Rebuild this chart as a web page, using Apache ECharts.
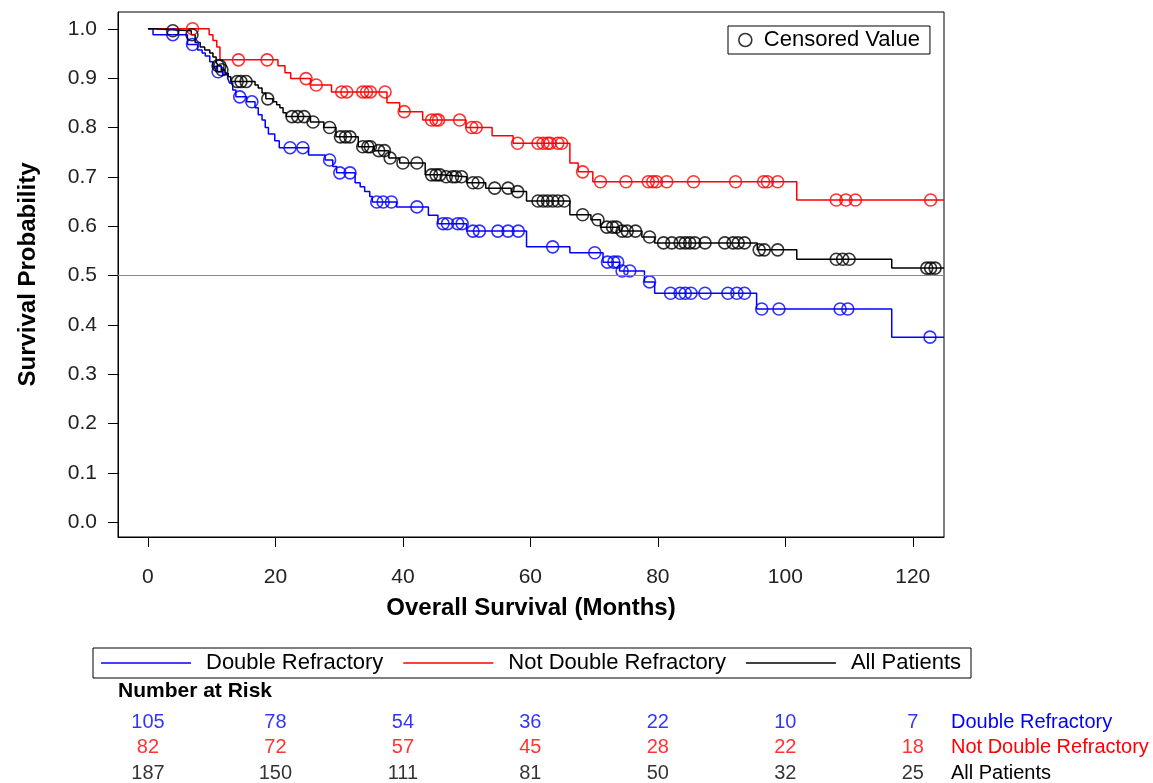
<!DOCTYPE html>
<html><head><meta charset="utf-8">
<script src="https://cdn.jsdelivr.net/npm/echarts@6/dist/echarts.min.js"></script>
<style>html,body{margin:0;padding:0;background:#fff}#c{width:1153px;height:783px}</style>
</head><body><div id="c"></div>
<script>
// ---- data ----
const xTicks = [0, 20, 40, 60, 80, 100, 120];
const yTicks = [0, 0.1, 0.2, 0.3, 0.4, 0.5, 0.6, 0.7, 0.8, 0.9, 1.0];
const groupNames = ['Double Refractory', 'Not Double Refractory', 'All Patients'];

// Double Refractory: event times (months) and survival after each event
const dblT = [0, 0.8, 6.2, 7.8, 8.5, 9.0, 9.7, 10.2, 10.9, 11.7, 12.5, 12.8, 13.3, 13.8, 15.5, 16.8, 17.3, 17.9, 18.4, 18.9, 19.9, 20.6, 25.2, 27.8, 29.0, 29.6, 32.5, 33.3, 34.0, 34.8, 35.2, 39.0, 44.0, 45.5, 50.0, 59.4, 66.2, 71.4, 74.0, 77.9, 79.5, 95.5, 116.7];
const dblS = [1.0, 0.988, 0.968, 0.957, 0.951, 0.945, 0.933, 0.923, 0.913, 0.907, 0.90, 0.89, 0.876, 0.862, 0.852, 0.84, 0.826, 0.815, 0.80, 0.787, 0.773, 0.759, 0.744, 0.734, 0.721, 0.708, 0.688, 0.68, 0.67, 0.66, 0.649, 0.639, 0.622, 0.605, 0.59, 0.558, 0.546, 0.527, 0.509, 0.487, 0.464, 0.432, 0.375];
const dblCens = [3.9, 7.0, 11.0, 14.4, 16.3, 22.3, 24.3, 28.5, 30.1, 31.7, 35.9, 36.9, 38.2, 42.2, 46.3, 47.0, 48.6, 49.3, 51.0, 52.0, 54.9, 56.5, 58.1, 63.5, 70.1, 72.1, 73.1, 73.7, 74.4, 75.6, 78.7, 82.0, 83.5, 84.3, 85.2, 87.4, 91.0, 92.4, 93.6, 96.3, 99.0, 108.6, 109.8, 122.7];

// Not Double Refractory
const ndrT = [0, 9.6, 10.2, 10.8, 11.3, 20.4, 21.5, 22.4, 25.5, 28.8, 37.5, 39.5, 43.1, 49.9, 54.0, 57.3, 66.2, 67.5, 69.8, 101.8];
const ndrS = [1.0, 0.988, 0.976, 0.963, 0.937, 0.925, 0.911, 0.899, 0.886, 0.872, 0.850, 0.832, 0.815, 0.80, 0.783, 0.768, 0.728, 0.71, 0.69, 0.653];
const ndrCens = [7.0, 14.2, 18.7, 24.8, 26.4, 30.4, 31.2, 33.7, 34.3, 34.9, 37.2, 40.2, 44.5, 45.2, 45.6, 48.9, 50.8, 51.5, 58.0, 61.2, 62.0, 62.7, 63.1, 64.3, 64.9, 68.2, 71.0, 75.0, 78.5, 79.2, 79.8, 81.4, 85.6, 92.2, 96.6, 97.2, 98.8, 108.0, 109.5, 111.0, 122.8];

// All Patients
const allT = [0, 0.8, 6.8, 7.4, 8.2, 8.9, 9.7, 10.2, 10.7, 11.0, 11.5, 12.1, 12.6, 13.0, 16.8, 17.3, 17.9, 18.5, 19.6, 20.2, 20.7, 21.2, 21.7, 25.5, 27.6, 29.5, 33.0, 35.5, 37.8, 39.5, 43.5, 46.0, 50.0, 53.0, 57.0, 59.4, 66.2, 69.5, 71.0, 74.0, 77.5, 79.5, 95.6, 101.8, 116.7];
const allS = [1.0, 0.996, 0.988, 0.972, 0.963, 0.957, 0.951, 0.943, 0.933, 0.925, 0.917, 0.91, 0.903, 0.893, 0.886, 0.88, 0.87, 0.858, 0.852, 0.846, 0.84, 0.83, 0.822, 0.811, 0.80, 0.781, 0.761, 0.753, 0.738, 0.728, 0.704, 0.70, 0.688, 0.677, 0.67, 0.651, 0.623, 0.613, 0.598, 0.59, 0.578, 0.566, 0.552, 0.533, 0.515];
const allCens = [3.9, 6.9, 11.0, 11.3, 11.6, 14.0, 14.6, 15.4, 18.8, 22.6, 23.5, 24.5, 25.9, 28.5, 30.2, 31.0, 31.7, 33.7, 34.5, 34.9, 36.2, 37.1, 38.0, 40.0, 42.2, 44.5, 45.2, 45.8, 46.8, 47.8, 48.3, 49.2, 51.0, 51.8, 54.4, 56.5, 58.0, 61.2, 62.0, 62.7, 63.5, 64.3, 65.3, 68.2, 70.6, 72.0, 72.9, 73.5, 74.4, 75.2, 76.5, 78.7, 80.9, 82.2, 83.5, 84.3, 85.0, 85.8, 87.4, 90.5, 91.8, 92.6, 93.6, 95.9, 96.7, 98.8, 108.0, 109.0, 110.0, 122.2, 122.8, 123.5];

// Number at risk
const riskTimes = [0, 20, 40, 60, 80, 100, 120];
const riskDbl = [105, 78, 54, 36, 22, 10, 7];
const riskNdr = [82, 72, 57, 45, 28, 22, 18];
const riskAll = [187, 150, 111, 81, 50, 32, 25];

// ---- build ----
const X_MIN = -4.7, X_MAX = 124.9;
const Y_MIN = -0.03, Y_MAX = 1.034;
const BLUE = '#0000ff', RED = '#ff0000', BLACK = '#000000';
const FONT = '"Liberation Sans", Arial, sans-serif';

function stepData(T, S) {
  const d = T.map((t, i) => [t, S[i]]);
  d.push([X_MAX, S[S.length - 1]]);
  return d;
}
function survAt(T, S, t) {
  let s = S[0];
  for (let i = 0; i < T.length; i++) if (T[i] <= t) s = S[i];
  return s;
}
function censData(T, S, C) { return C.map(t => [t, survAt(T, S, t)]); }

function lineSeries(name, T, S, color, extra) {
  return Object.assign({
    name, type: 'line', step: 'end', symbol: 'none', showSymbol: false, xAxisIndex: 0, yAxisIndex: 0,
    data: stepData(T, S), lineStyle: { color, width: 1.5 }, itemStyle: { color },
    animation: false, z: 3
  }, extra || {});
}
function censSeries(name, T, S, C, color) {
  return {
    name, type: 'scatter', xAxisIndex: 0, yAxisIndex: 0, symbol: 'circle', symbolSize: 12,
    data: censData(T, S, C),
    itemStyle: { color: 'transparent', borderColor: color, borderWidth: 1.6 },
    animation: false, z: 4
  };
}
function riskSeries(vals, rowName, color) {
  return {
    type: 'scatter', xAxisIndex: 1, yAxisIndex: 1, symbolSize: 0, silent: true,
    data: riskTimes.map((t, i) => [t, rowName, vals[i]]),
    label: { show: true, position: 'inside', formatter: p => String(p.value[2]),
      color, fontFamily: FONT, fontSize: 20 },
    animation: false
  };
}

const chart = echarts.init(document.getElementById('c'), null, { renderer: 'canvas' });
chart.setOption({
  backgroundColor: '#fff',
  animation: false,
  textStyle: { fontFamily: FONT },
  grid: [
    { left: 118, top: 12, width: 826, height: 525, show: true, borderColor: '#000', borderWidth: 1, containLabel: false },
    { left: 118, top: 722, width: 826, height: 51, containLabel: false }
  ],
  xAxis: [
    { type: 'value', gridIndex: 0, min: X_MIN, max: X_MAX,
      name: 'Overall Survival (Months)', nameLocation: 'middle', nameGap: 59,
      nameTextStyle: { fontFamily: FONT, fontSize: 24, fontWeight: 'bold', color: '#000' },
      axisLine: { show: true, onZero: false, lineStyle: { color: '#000', width: 1 } },
      axisTick: { show: true, length: 10, customValues: xTicks, lineStyle: { color: '#000' } },
      axisLabel: { show: true, customValues: xTicks, margin: 30, fontSize: 21, color: '#222', fontFamily: FONT },
      splitLine: { show: false } },
    { type: 'value', gridIndex: 1, min: X_MIN, max: X_MAX, show: false }
  ],
  yAxis: [
    { type: 'value', gridIndex: 0, min: Y_MIN, max: Y_MAX,
      name: 'Survival Probability', nameLocation: 'middle', nameGap: 78, nameRotate: 90,
      nameTextStyle: { fontFamily: FONT, fontSize: 24, fontWeight: 'bold', color: '#000' },
      axisLine: { show: true, onZero: false, lineStyle: { color: '#000', width: 1 } },
      axisTick: { show: true, length: 10, customValues: yTicks, lineStyle: { color: '#000' } },
      axisLabel: { show: true, customValues: yTicks, margin: 21, fontSize: 21, color: '#222', fontFamily: FONT,
        formatter: v => Number(v).toFixed(1) },
      splitLine: { show: false } },
    { type: 'category', gridIndex: 1, data: groupNames, inverse: true, position: 'right', boundaryGap: false,
      axisLine: { show: false }, axisTick: { show: false }, splitLine: { show: false },
      axisLabel: { show: true, interval: 0, hideOverlap: false, margin: 7, fontSize: 20, fontFamily: FONT, align: 'left',
        formatter: (v, i) => '{r' + i + '|' + v + '}',
        rich: { r0: { color: BLUE, fontSize: 20, fontFamily: FONT }, r1: { color: RED, fontSize: 20, fontFamily: FONT }, r2: { color: BLACK, fontSize: 20, fontFamily: FONT } } } }
  ],
  legend: [
    { left: 93, top: 648, orient: 'horizontal', borderColor: '#000', borderWidth: 1,
      padding: [4, 10, 4, 8], itemWidth: 90, itemHeight: 1.6, itemGap: 20,
      textStyle: { fontSize: 22, color: '#000', fontFamily: FONT, padding: [0, 0, 0, 10] },
      selectedMode: false,
      data: groupNames.map(n => ({ name: n, icon: 'rect' })) },
    { left: 728, top: 26, borderColor: '#000', borderWidth: 1, padding: [3, 10, 3, 10],
      itemWidth: 13, itemHeight: 13, selectedMode: false,
      textStyle: { fontSize: 22, color: '#000', fontFamily: FONT, padding: [0, 0, 0, 7] },
      data: [{ name: 'Censored Value', icon: 'circle',
        itemStyle: { color: 'transparent', borderColor: '#000', borderWidth: 1.6 } }] }
  ],
  graphic: [
    { type: 'text', left: 118, top: 681, style: { text: 'Number at Risk', fontFamily: FONT, fontSize: 21, fontWeight: 'bold', fill: '#000' } }
  ],
  series: [
    lineSeries('Double Refractory', dblT, dblS, BLUE),
    lineSeries('Not Double Refractory', ndrT, ndrS, RED),
    lineSeries('All Patients', allT, allS, BLACK, {
      markLine: { silent: true, symbol: 'none', label: { show: false }, animation: false,
        lineStyle: { color: '#888', width: 1, type: 'solid' }, data: [{ yAxis: 0.5 }] }
    }),
    censSeries('cens_dbl', dblT, dblS, dblCens, BLUE),
    censSeries('cens_ndr', ndrT, ndrS, ndrCens, RED),
    censSeries('cens_all', allT, allS, allCens, BLACK),
    { name: 'Censored Value', type: 'scatter', xAxisIndex: 0, yAxisIndex: 0, data: [], symbol: 'circle',
      itemStyle: { color: 'transparent', borderColor: '#000', borderWidth: 1.6 } },
    riskSeries(riskDbl, groupNames[0], BLUE),
    riskSeries(riskNdr, groupNames[1], RED),
    riskSeries(riskAll, groupNames[2], BLACK)
  ]
});
</script>
</body></html>
